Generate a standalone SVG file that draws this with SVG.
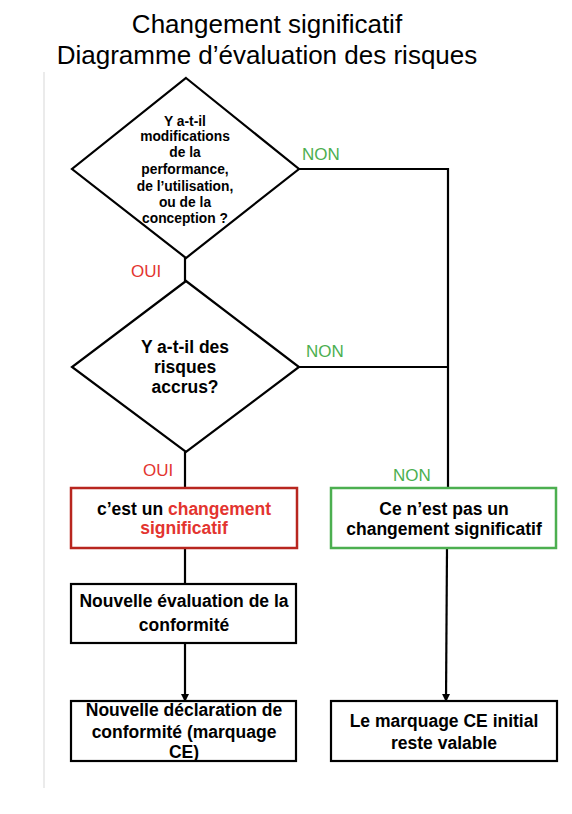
<svg xmlns="http://www.w3.org/2000/svg" width="572" height="814" viewBox="0 0 572 814">
<style>
.title{font-family:"Liberation Sans",Arial,sans-serif;font-size:26px;fill:#000;text-anchor:middle}
.t{font-family:"Liberation Sans",Arial,sans-serif;font-weight:bold;fill:#000;text-anchor:middle}
.d1{font-size:13.8px}
.b{font-size:17.5px}
.lbl{font-family:"Liberation Sans",Arial,sans-serif;font-size:17px}
.non{fill:#4caf50}
.oui{fill:#e3342f}
.red{fill:#e3342f}
.shape{fill:#fff;stroke:#000;stroke-width:2.2}
.line{fill:none;stroke:#000;stroke-width:2.2}
</style>
<defs>
<marker id="arr" markerUnits="userSpaceOnUse" markerWidth="8" markerHeight="8" refX="7" refY="4" orient="auto">
<path d="M0,0 L8,4 L0,8 Z" fill="#000"/>
</marker>
</defs>
<rect x="0" y="0" width="572" height="814" fill="#fff"/>
<line x1="44" y1="72" x2="44" y2="788" stroke="#e4e4e4" stroke-width="1.5"/>
<g id="title">
<text class="title" x="267" y="33">Changement significatif</text>
<text class="title" x="267" y="64">Diagramme d’évaluation des risques</text>
</g>
<g id="connectors">
<line class="line" x1="185" y1="258" x2="185" y2="281"/>
<polyline class="line" points="299,169 448,169 448,488"/>
<line class="line" x1="299" y1="367" x2="448" y2="367"/>
<line class="line" x1="185" y1="452" x2="185" y2="488"/>
<line class="line" x1="185" y1="548" x2="185" y2="584"/>
<line class="line" x1="185" y1="643" x2="185" y2="701" marker-end="url(#arr)"/>
<line class="line" x1="447" y1="548" x2="446" y2="701" marker-end="url(#arr)"/>
<text class="lbl non" x="302" y="160">NON</text>
<text class="lbl oui" x="131" y="277">OUI</text>
<text class="lbl non" x="306" y="357">NON</text>
<text class="lbl oui" x="143" y="476">OUI</text>
<text class="lbl non" x="393" y="481">NON</text>
</g>
<g id="q1">
<polygon class="shape" points="186,78 299,169 186,258 72,169"/>
<text class="t d1" x="185" y="126">Y a-t-il</text>
<text class="t d1" x="185" y="141">modifications</text>
<text class="t d1" x="185" y="157">de la</text>
<text class="t d1" x="185" y="174">performance,</text>
<text class="t d1" x="185" y="191">de l’utilisation,</text>
<text class="t d1" x="185" y="207">ou de la</text>
<text class="t d1" x="185" y="223">conception ?</text>
</g>
<g id="q2">
<polygon class="shape" points="186,281 299,367 186,452 72,367"/>
<text class="t b" x="185" y="353">Y a-t-il des</text>
<text class="t b" x="185" y="373">risques</text>
<text class="t b" x="185" y="393">accrus?</text>
</g>
<g id="sig">
<rect x="71" y="488" width="226" height="60" fill="#fff" stroke="#b8261f" stroke-width="2.5"/>
<text class="t b" x="184" y="515">c’est un <tspan class="red">changement</tspan></text>
<text class="t b red" x="184" y="534">significatif</text>
</g>
<g id="notsig">
<rect x="331" y="488" width="225" height="60" fill="#fff" stroke="#4caf50" stroke-width="2.5"/>
<text class="t b" x="444" y="515">Ce n’est pas un</text>
<text class="t b" x="444" y="535">changement significatif</text>
</g>
<g id="eval">
<rect class="shape" x="71" y="584" width="225" height="59"/>
<text class="t b" x="184" y="607">Nouvelle évaluation de la</text>
<text class="t b" x="184" y="631">conformité</text>
</g>
<g id="decl">
<rect class="shape" x="71" y="701" width="225" height="60"/>
<text class="t b" x="184" y="716">Nouvelle déclaration de</text>
<text class="t b" x="184" y="738">conformité (marquage</text>
<text class="t b" x="184" y="758">CE)</text>
</g>
<g id="valid">
<rect class="shape" x="331" y="701" width="226" height="60"/>
<text class="t b" x="444" y="727">Le marquage CE initial</text>
<text class="t b" x="444" y="749">reste valable</text>
</g>
</svg>
